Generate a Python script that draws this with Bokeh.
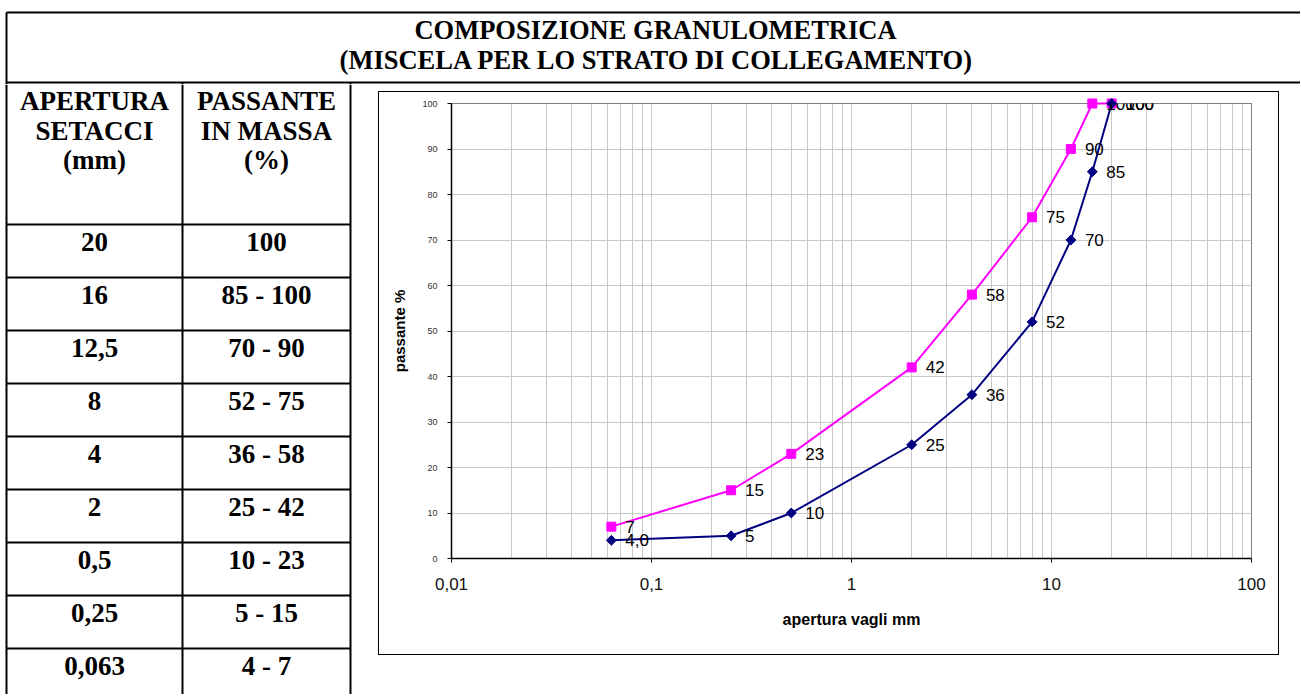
from bokeh.plotting import figure
from bokeh.models import (ColumnDataSource, LabelSet, FixedTicker, CustomJSTickFormatter,
                          Range1d, Spacer)
from bokeh.layouts import column, row
from bokeh.embed import file_html
from bokeh.resources import INLINE
from bokeh.core.properties import value

# ---------------- data ----------------
title_lines = ["COMPOSIZIONE GRANULOMETRICA", "(MISCELA PER LO STRATO DI COLLEGAMENTO)"]
header_col1 = ["APERTURA", "SETACCI", "(mm)"]
header_col2 = ["PASSANTE", "IN MASSA", "(%)"]
apertura_labels = ["20", "16", "12,5", "8", "4", "2", "0,5", "0,25", "0,063"]
passante_labels = ["100", "85 - 100", "70 - 90", "52 - 75", "36 - 58", "25 - 42",
                   "10 - 23", "5 - 15", "4 - 7"]

sieve_mm = [0.063, 0.25, 0.5, 2, 4, 8, 12.5, 16, 20]
upper_limit = [7, 15, 23, 42, 58, 75, 90, 100, 100]
lower_limit = [4.0, 5, 10, 25, 36, 52, 70, 85, 100]
upper_text = ["7", "15", "23", "42", "58", "75", "90", "100", "100"]
lower_text = ["4,0", "5", "10", "25", "36", "52", "70", "85", "100"]

x_major_ticks = [0.01, 0.1, 1, 10, 100]
x_minor_ticks = [m * d for d in (0.01, 0.1, 1, 10) for m in range(2, 10)]
y_ticks = list(range(0, 101, 10))
x_axis_title = "apertura vagli mm"
y_axis_title = "passante %"

SERIF = "Liberation Serif"
SANS = "Liberation Sans"
LINE = "#000000"


def blank_fig(x0, x1, y0, y1):
    f = figure(width=x1 - x0, height=y1 - y0, x_range=Range1d(x0, x1), y_range=Range1d(y1, y0),
               x_axis_type=None, y_axis_type=None, toolbar_location=None,
               output_backend="svg", min_border=0, title=None)
    f.outline_line_color = None
    f.xgrid.visible = False
    f.ygrid.visible = False
    f.background_fill_color = "white"
    f.border_fill_color = "white"
    return f


# ---------------- title band ----------------
top = blank_fig(0, 1300, 0, 84)
top.segment(x0=[6, 6, 6, 182, 350], y0=[12, 82, 12, 82, 82],
            x1=[1300, 1300, 6, 182, 350], y1=[12, 82, 84, 84, 84],
            line_color=LINE, line_width=2)
top.text(x=[655, 656], y=[29.5, 59.5], text=title_lines, text_align="center",
         text_baseline="alphabetic", text_font=value(SERIF), text_font_style="bold",
         text_font_size="26.5px", text_color="black")

# ---------------- table ----------------
tbl = blank_fig(0, 352, 84, 694)
row_tops = [224 + 53 * i for i in range(len(apertura_labels))]
tbl.segment(x0=[6, 182, 350], y0=[84, 84, 84], x1=[6, 182, 350], y1=[694, 694, 694],
            line_color=LINE, line_width=2)
tbl.segment(x0=[6] * len(row_tops), y0=row_tops, x1=[350] * len(row_tops), y1=row_tops,
            line_color=LINE, line_width=2)
hdr_y = [100.5, 130.5, 159.5]
tbl.text(x=[94] * 3, y=hdr_y, text=header_col1, text_align="center", text_baseline="alphabetic",
         text_font=value(SERIF), text_font_style="bold", text_font_size="27px", text_color="black")
tbl.text(x=[266] * 3, y=hdr_y, text=header_col2, text_align="center", text_baseline="alphabetic",
         text_font=value(SERIF), text_font_style="bold", text_font_size="27px", text_color="black")
val_y = [t + 17 for t in row_tops]
tbl.text(x=[94] * len(val_y), y=val_y, text=apertura_labels, text_align="center",
         text_baseline="alphabetic", text_font=value(SERIF), text_font_style="bold",
         text_font_size="27px", text_color="black")
tbl.text(x=[266] * len(val_y), y=val_y, text=passante_labels, text_align="center",
         text_baseline="alphabetic", text_font=value(SERIF), text_font_style="bold",
         text_font_size="27px", text_color="black")

# ---------------- chart ----------------
p = figure(width=899, height=562, x_axis_type="log", x_range=Range1d(0.01, 100),
           y_range=Range1d(0, 100), toolbar_location=None, output_backend="svg", title=None,
           min_border_left=72, min_border_right=27, min_border_top=11, min_border_bottom=96,
           styles={"outline": "1px solid #000000"})
p.background_fill_color = "white"
p.border_fill_color = "white"
p.outline_line_color = "#808080"
p.outline_line_width = 1

xa = p.xaxis[0]
xa.ticker = FixedTicker(ticks=x_major_ticks, minor_ticks=x_minor_ticks)
xa.formatter = CustomJSTickFormatter(code="return tick.toString().replace('.', ',');")
xa.axis_line_color = "black"
xa.axis_line_width = 1.5
xa.major_tick_in = 0
xa.major_tick_out = 4
xa.major_tick_line_color = "black"
xa.minor_tick_line_color = None
xa.major_label_standoff = 15
xa.major_label_text_font = SANS
xa.major_label_text_font_size = "17px"
xa.major_label_text_color = "#111111"
xa.axis_label = x_axis_title
xa.axis_label_text_font = SANS
xa.axis_label_text_font_style = "bold"
xa.axis_label_text_font_size = "16px"
xa.axis_label_text_color = "black"
xa.axis_label_standoff = 18

ya = p.yaxis[0]
ya.ticker = FixedTicker(ticks=y_ticks)
ya.axis_line_color = "black"
ya.axis_line_width = 1.5
ya.major_tick_in = 0
ya.major_tick_out = 4
ya.major_tick_line_color = "black"
ya.minor_tick_line_color = None
ya.major_label_standoff = 10
ya.major_label_text_font = SANS
ya.major_label_text_font_size = "9px"
ya.major_label_text_color = "#333333"
ya.axis_label = y_axis_title
ya.axis_label_text_font = SANS
ya.axis_label_text_font_style = "bold"
ya.axis_label_text_font_size = "15px"
ya.axis_label_text_color = "black"
ya.axis_label_standoff = 11

grid_col = "#c8c8c8"
p.xgrid.grid_line_color = grid_col
p.xgrid.minor_grid_line_color = grid_col
p.ygrid.grid_line_color = grid_col
p.ygrid.minor_grid_line_color = None

src = ColumnDataSource(dict(x=sieve_mm, upper=upper_limit, lower=lower_limit,
                            ut=upper_text, lt=lower_text))
r = p.line("x", "upper", source=src, line_color="#FF00FF", line_width=2)
r.level = "overlay"
r = p.scatter("x", "upper", source=src, marker="square", size=9, fill_color="#FF00FF",
              line_color="#FF00FF")
r.level = "overlay"
r = p.line("x", "lower", source=src, line_color="#000080", line_width=2)
r.level = "overlay"
r = p.scatter("x", "lower", source=src, marker="square", angle=0.785398, size=7,
              fill_color="#000080", line_color="#000080")
r.level = "overlay"

for col_y, col_t in (("upper", "ut"), ("lower", "lt")):
    ls = LabelSet(x="x", y=col_y, text=col_t, source=src, x_offset=14, y_offset=0,
                  text_baseline="middle", text_align="left", text_font=value(SANS),
                  text_font_size="17px", text_color="black", level="overlay")
    p.add_layout(ls)

chart_block = column(Spacer(height=8, width=899), p, spacing=0)
body = row(tbl, Spacer(width=27, height=610), chart_block, spacing=0)
layout = column(top, body, spacing=0)

open("out.html", "w").write(file_html(layout, INLINE))
